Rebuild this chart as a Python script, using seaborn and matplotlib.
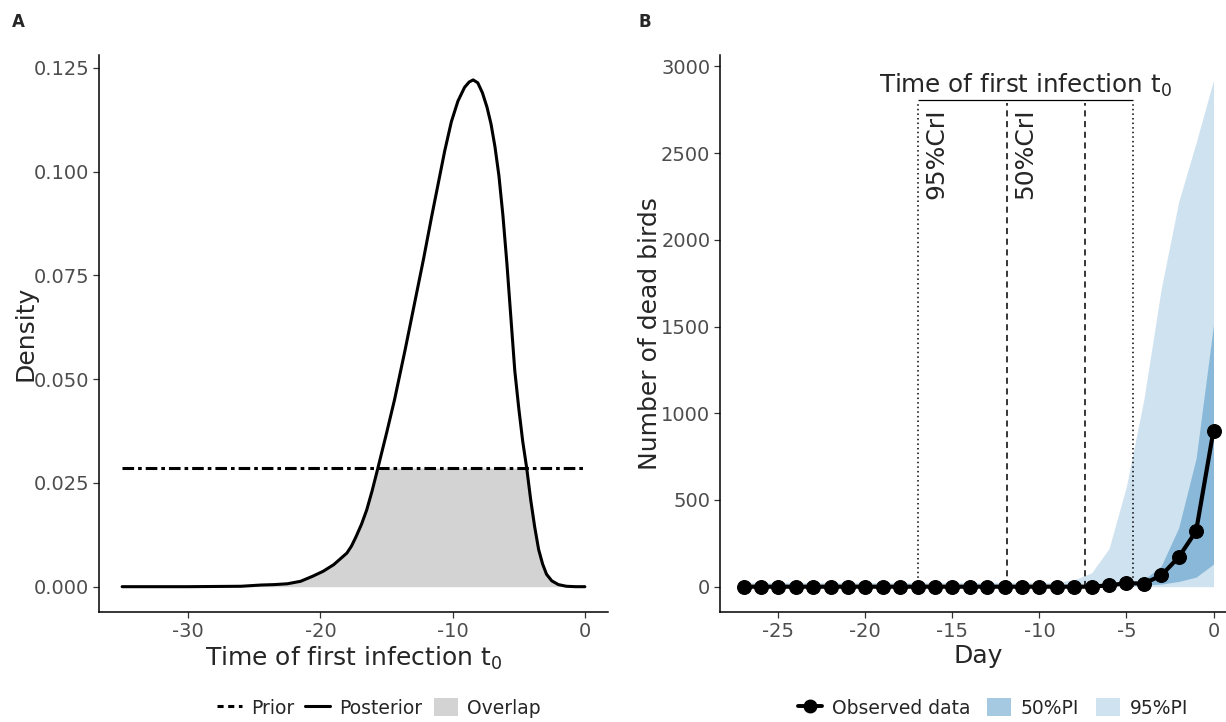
import numpy as np
import matplotlib
matplotlib.use("Agg")
import matplotlib.pyplot as plt
import seaborn as sns
from matplotlib.lines import Line2D
from matplotlib.patches import Patch

# panel A: posterior density of t0 and uniform prior
post_x = [-35, -30, -26, -24.5, -23.5, -22.5, -21.5, -20.6, -19.8, -19.0, -18.0, -17.65,
          -17.3, -16.9, -16.5, -16.1, -15.7, -15.0, -14.4, -13.6, -12.9, -12.2, -11.6,
          -11.1, -10.6, -10.1, -9.6, -9.1, -8.75, -8.45, -8.1, -7.75, -7.4, -7.1, -6.8,
          -6.5, -6.2, -5.9, -5.6, -5.3, -5.0, -4.7, -4.4, -4.1, -3.8, -3.5, -3.2, -2.9,
          -2.5, -2.0, -1.4, -0.7, 0]
post_y = [0, 0, 0.0001, 0.0004, 0.0005, 0.0007, 0.0013, 0.0025, 0.0037, 0.0053, 0.0081,
          0.0098, 0.0121, 0.0150, 0.0185, 0.0230, 0.0280, 0.0370, 0.0450, 0.0570, 0.0680,
          0.0790, 0.0890, 0.0970, 0.1050, 0.1120, 0.1170, 0.1203, 0.1216, 0.1221, 0.1214,
          0.1190, 0.1155, 0.1115, 0.1060, 0.0990, 0.0895, 0.0780, 0.0650, 0.0520, 0.0430,
          0.0350, 0.0286, 0.0210, 0.0145, 0.0090, 0.0055, 0.0030, 0.0014, 0.0005, 0.0001,
          0.0, 0]
prior_x = [-35, 0]
prior_y = [1 / 35, 1 / 35]

# panel B: observed deaths and prediction intervals
days = list(range(-27, 1))
observed = [0, 0, 0, 0, 0, 0, 0, 0, 0, 0, 0, 0, 0, 0, 0, 0, 0, 0, 0, 0, 0,
            8, 20, 18, 65, 170, 320, 900]
pi95_low = [0] * 28
pi95_high = [25, 25, 25, 25, 25, 25, 25, 25, 25, 25, 25, 25, 25, 25, 25, 25, 25, 25, 25,
             40, 80, 220, 580, 1080, 1720, 2220, 2560, 2920]
pi50_low = [3, 3, 3, 3, 3, 3, 3, 3, 3, 3, 3, 3, 3, 3, 3, 3, 3, 3, 3, 3, 3,
            5, 8, 10, 15, 30, 55, 130]
pi50_high = [8, 8, 8, 8, 8, 8, 8, 8, 8, 8, 8, 8, 8, 8, 8, 8, 8, 8, 8, 8, 8,
             10, 12, 40, 120, 340, 740, 1510]
ci95 = [-16.96, -4.64]
ci50 = [-11.86, -7.39]

sns.set_style("ticks")
plt.rcParams['font.family'] = ['DejaVu Sans']
plt.rcParams['axes.unicode_minus'] = False

W, H = 1226, 722
fig = plt.figure(figsize=(W / 100, H / 100), dpi=100)
ax1 = fig.add_axes([99 / W, 1 - 612 / H, (608 - 99) / W, (612 - 55) / H])
ax2 = fig.add_axes([720 / W, 1 - 612 / H, (1237 - 720) / W, (612 - 55) / H])

tick_col = '#4D4D4D'
for ax in (ax1, ax2):
    sns.despine(ax=ax)
    for s in ('left', 'bottom'):
        ax.spines[s].set_linewidth(1.1)
        ax.spines[s].set_color('black')
    ax.tick_params(length=4, width=0.9, color='#333333', labelcolor=tick_col,
                   labelsize=14, pad=3)

# ---- panel A
overlap = np.minimum(np.array(post_y), prior_y[0])
ax1.fill_between(post_x, 0, overlap, color='#D3D3D3', lw=0)
sns.lineplot(x=prior_x, y=prior_y, ax=ax1, color='black', lw=2.2,
             linestyle=(0, (3.8, 1.3, 1.2, 1.3)))
sns.lineplot(x=post_x, y=post_y, ax=ax1, color='black', lw=2.2)
ax1.set_xlim(-36.75, 1.75)
ax1.set_ylim(-0.0061, 0.1281)
ax1.set_xticks([-30, -20, -10, 0])
ax1.set_yticks([0, 0.025, 0.05, 0.075, 0.1, 0.125])
ax1.set_yticklabels(['0.000', '0.025', '0.050', '0.075', '0.100', '0.125'])
ax1.set_xlabel('Time of first infection t$_0$', fontsize=18)
ax1.set_ylabel('Density', fontsize=18)
ax1.xaxis.set_label_coords(0.5, -0.058)
ax1.yaxis.set_label_coords(-0.145, 0.5)
ax1.yaxis.label.set(ha='center', va='center')

# ---- panel B
C = '#3182BD'
ax2.fill_between(days, pi95_low, pi95_high, color=C, alpha=0.23, lw=0)
ax2.fill_between(days, pi50_low, pi50_high, color=C, alpha=0.43, lw=0)
ax2.vlines(ci95, 0, 2790, colors='black', linestyles=(0, (1, 2)), lw=1.1)
ax2.vlines(ci50, 0, 2790, colors='black', linestyles=(0, (4, 3)), lw=1.1)
ax2.hlines(2805, ci95[0], ci95[1], colors='black', lw=0.9)
ax2.text(sum(ci95) / 2, 2890, 'Time of first infection t$_0$', ha='center', va='center',
         fontsize=17.7)
ax2.text(ci95[0] + 1.05, 2760, '95%CrI', rotation=90, ha='center', va='top', fontsize=18)
ax2.text(ci50[0] + 1.05, 2760, '50%CrI', rotation=90, ha='center', va='top', fontsize=18)
sns.lineplot(x=days, y=observed, ax=ax2, color='black', lw=3.0, marker='o',
             markersize=10, markeredgecolor='black')
ax2.set_xlim(-28.35, 1.35)
ax2.set_ylim(-146, 3066)
ax2.set_xticks([-25, -20, -15, -10, -5, 0])
ax2.set_yticks([0, 500, 1000, 1500, 2000, 2500, 3000])
ax2.set_xlabel('Day', fontsize=18)
ax2.set_ylabel('Number of dead birds', fontsize=18)
ax2.xaxis.set_label_coords(0.5, -0.058)
ax2.yaxis.set_label_coords(-0.135, 0.5)
ax2.yaxis.label.set(ha='center', va='center')

# ---- legends
h1 = [Line2D([], [], color='black', lw=2.2, ls=(0, (2, 1.5))),
      Line2D([], [], color='black', lw=2.2),
      Patch(facecolor='#D3D3D3', edgecolor='none')]
fig.legend(h1, ['Prior', 'Posterior', 'Overlap'], loc='center', ncol=3,
           bbox_to_anchor=(379 / W, 1 - 708 / H), frameon=False, fontsize=13.5,
           handlelength=1.3, handleheight=1.1, handletextpad=0.5, columnspacing=0.6)
h2 = [Line2D([], [], color='black', lw=2.8, marker='o', markersize=9),
      Patch(facecolor=C, alpha=0.43, edgecolor='none'),
      Patch(facecolor=C, alpha=0.23, edgecolor='none')]
fig.legend(h2, ['Observed data', '50%PI', '95%PI'], loc='center', ncol=3,
           bbox_to_anchor=(993 / W, 1 - 708 / H), frameon=False, fontsize=13.5,
           handlelength=1.3, handleheight=1.1, handletextpad=0.5, columnspacing=0.9)

fig.text(18 / W, 1 - 22 / H, 'A', fontsize=12, fontweight='bold', ha='center', va='center')
fig.text(645 / W, 1 - 22 / H, 'B', fontsize=12, fontweight='bold', ha='center', va='center')

fig.savefig('out.png', dpi=100)
